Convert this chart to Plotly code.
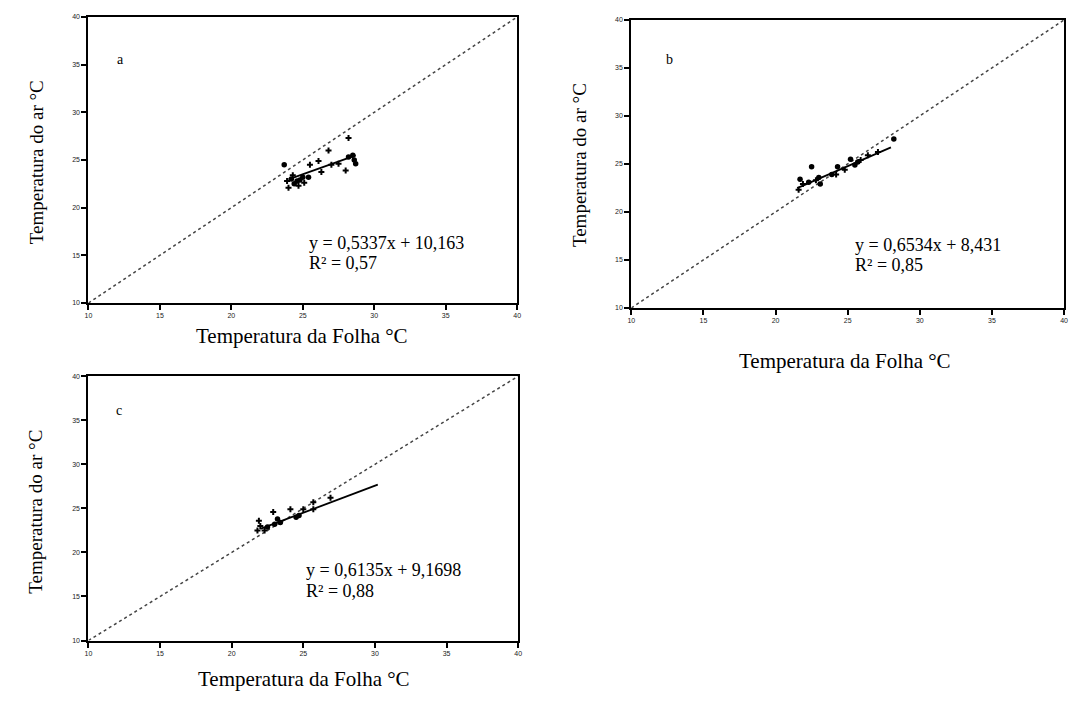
import plotly.graph_objects as go

# ---- data ----
panels = ["a", "b", "c"]

a_x_dot = [23.7, 24.2, 24.6, 25.0, 24.4, 24.8, 28.2, 28.5, 28.7, 28.6, 25.4]
a_y_dot = [24.5, 23.0, 22.8, 23.2, 22.5, 22.9, 25.3, 25.5, 24.6, 25.0, 23.2]
a_x_plus = [28.2, 26.8, 26.1, 25.5, 28.0, 26.3, 27.0, 27.5, 24.0, 24.3, 25.1, 23.9, 24.7]
a_y_plus = [27.3, 26.0, 24.9, 24.5, 23.9, 23.75, 24.5, 24.6, 22.1, 23.4, 22.6, 22.8, 22.3]

b_x_dot = [22.5, 21.7, 23.0, 23.1, 24.3, 25.2, 25.7, 25.5, 28.2, 22.3, 23.9]
b_y_dot = [24.7, 23.4, 23.6, 22.9, 24.7, 25.5, 25.2, 24.9, 27.6, 23.1, 23.9]
b_x_plus = [21.6, 24.2, 26.4, 27.1, 22.8, 24.8, 25.9, 21.9]
b_y_plus = [22.3, 23.9, 25.9, 26.25, 23.3, 24.4, 25.4, 22.9]

c_x_dot = [23.0, 23.2, 24.7, 24.5, 22.5, 23.4]
c_y_dot = [23.2, 23.8, 24.2, 24.0, 22.9, 23.4]
c_x_plus = [22.9, 21.9, 21.8, 24.1, 25.0, 25.7, 25.7, 26.9, 22.3, 22.0]
c_y_plus = [24.6, 23.6, 22.5, 24.9, 24.9, 25.7, 24.9, 26.2, 22.5, 23.0]

slopes = [0.5337, 0.6534, 0.6135]
intercepts = [10.163, 8.431, 9.1698]
fit_x_start = [24.0, 21.5, 22.0]
fit_x_end = [28.7, 28.0, 30.2]
equations = ["y = 0,5337x + 10,163", "y = 0,6534x + 8,431", "y = 0,6135x + 9,1698"]
r2_labels = ["R² = 0,57", "R² = 0,85", "R² = 0,88"]

tick_vals = [10, 15, 20, 25, 30, 35, 40]
tick_text = ["10", "15", "20", "25", "30", "35", "40"]
x_title = "Temperatura da Folha °C"
y_title = "Temperatura do ar °C"

dots = [(a_x_dot, a_y_dot), (b_x_dot, b_y_dot), (c_x_dot, c_y_dot)]
pluses = [(a_x_plus, a_y_plus), (b_x_plus, b_y_plus), (c_x_plus, c_y_plus)]

# ---- layout geometry (screen pixels in the 1078x703 window) ----
OFF = 8                     # page body margin
W, H = 1078 - 2 * OFF, 703 - 2 * OFF


def px(x):
    return (x - OFF) / W


def py(y):
    return 1 - (y - OFF) / H


boxes = [  # left, right, top, bottom
    (85, 517, 13, 302),
    (632, 1068, 16, 307),
    (85, 518, 376, 643),
]

fig = go.Figure()
serif = "Liberation Serif, Times New Roman, serif"

for i, p in enumerate(panels):
    sfx = "" if i == 0 else str(i + 1)
    xa, ya = "x" + sfx, "y" + sfx
    # 1:1 line
    fig.add_trace(go.Scatter(x=[tick_vals[0], tick_vals[-1]], y=[tick_vals[0], tick_vals[-1]],
                             mode="lines", line=dict(color="#444444", width=1.5, dash="dot"),
                             xaxis=xa, yaxis=ya, showlegend=False, hoverinfo="skip"))
    # regression
    fx = [fit_x_start[i], fit_x_end[i]]
    fy = [slopes[i] * v + intercepts[i] for v in fx]
    fig.add_trace(go.Scatter(x=fx, y=fy, mode="lines", line=dict(color="black", width=1.8),
                             xaxis=xa, yaxis=ya, showlegend=False))
    fig.add_trace(go.Scatter(x=dots[i][0], y=dots[i][1], mode="markers",
                             marker=dict(color="black", size=5.5, symbol="circle"),
                             xaxis=xa, yaxis=ya, showlegend=False))
    fig.add_trace(go.Scatter(x=pluses[i][0], y=pluses[i][1], mode="markers",
                             marker=dict(color="black", size=5, symbol="cross"),
                             xaxis=xa, yaxis=ya, showlegend=False))

    l, r, t, b = boxes[i]
    axis_common = dict(range=[10, 40], tickvals=tick_vals, ticktext=tick_text,
                       showgrid=False, zeroline=False, showline=True, mirror=True,
                       linecolor="black", linewidth=2, ticks="outside", ticklen=5,
                       tickcolor="black", tickwidth=2,
                       tickfont=dict(size=7, color="#222", family="Arial, sans-serif"))
    fig.update_layout(**{
        "xaxis" + sfx: dict(domain=[px(l), px(r)], anchor=ya, **axis_common),
        "yaxis" + sfx: dict(domain=[py(b), py(t)], anchor=xa, **axis_common),
    })

annos = []


def note(x, y, text, size, xanchor="center", angle=0):
    annos.append(dict(x=px(x), y=py(y), xref="paper", yref="paper", text=text,
                      showarrow=False, xanchor=xanchor, yanchor="middle", textangle=angle,
                      font=dict(family=serif, size=size, color="black")))


# panel letters
letter_pos = [(117, 56), (670, 56), (116, 411)]
for i, p in enumerate(panels):
    note(letter_pos[i][0], letter_pos[i][1], p, 14)
# equations
eq_pos = [(305, 241, 262), (855, 243, 264), (302, 572, 593)]
for i in range(3):
    x, y1, y2 = eq_pos[i]
    note(x, y1, equations[i], 18, xanchor="left")
    note(x, y2, r2_labels[i], 18, xanchor="left")
# axis titles
xt_pos = [(300, 335), (847, 361), (302, 682)]
yt_pos = [(33, 160), (580, 163), (32, 513)]
for i in range(3):
    note(xt_pos[i][0], xt_pos[i][1], x_title, 21)
    note(yt_pos[i][0], yt_pos[i][1], y_title, 19, angle=-90)

fig.update_layout(width=W, height=H, margin=dict(l=0, r=0, t=0, b=0),
                  paper_bgcolor="white", plot_bgcolor="white", annotations=annos,
                  showlegend=False)

fig.write_html("out.html")
